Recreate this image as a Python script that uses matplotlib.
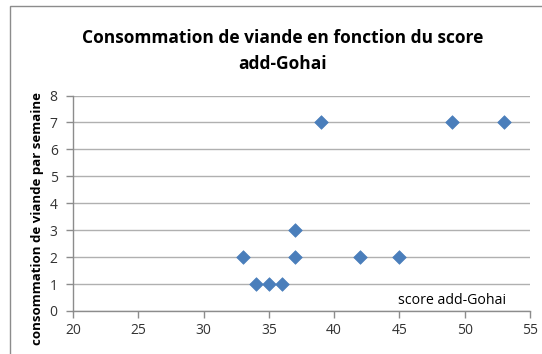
import matplotlib.pyplot as plt
from matplotlib.patches import Rectangle

# score add-Gohai et consommation de viande (fois par semaine)
score = [33, 34, 35, 36, 37, 37, 39, 42, 45, 49, 53]
viande = [2, 1, 1, 1, 3, 2, 7, 2, 2, 7, 7]

x_ticks = [20, 25, 30, 35, 40, 45, 50, 55]
y_ticks = [0, 1, 2, 3, 4, 5, 6, 7, 8]

plt.rcParams['font.family'] = ['Open Sans', 'DejaVu Sans']

fig = plt.figure(figsize=(5.42, 3.54), dpi=100)
fig.patch.set_facecolor('white')

# cadre du graphique
fig.patches.append(Rectangle((10 / 542, -0.1), 1.0, 1.1 - 6 / 354,
                             transform=fig.transFigure, fill=False,
                             edgecolor='#8c8c8c', linewidth=1.0))

ax = fig.add_axes([73 / 542, 43 / 354, 457 / 542, 215.5 / 354])

ax.scatter(score, viande, marker='D', s=48, color='#4a7ebb', zorder=3,
           edgecolors='#4a7ebb', linewidths=0.5)

ax.set_xlim(20, 55)
ax.set_ylim(0, 8)
ax.set_xticks(x_ticks)
ax.set_yticks(y_ticks)

ax.grid(axis='y', color='#b0b0b0', linewidth=1.0)
ax.grid(axis='x', visible=False)
ax.set_axisbelow(True)

for side in ['top', 'right']:
    ax.spines[side].set_visible(False)
for side in ['left', 'bottom']:
    ax.spines[side].set_color('#8c8c8c')
    ax.spines[side].set_linewidth(1.0)

ax.tick_params(axis='both', colors='#8c8c8c', labelcolor='#333333',
               labelsize=10, length=5, width=1.0)
ax.tick_params(axis='y', pad=6)
ax.tick_params(axis='x', pad=4)

fig.text(0.522, 0.856, 'Consommation de viande en fonction du score\nadd-Gohai',
         ha='center', va='center', fontsize=12.5, fontweight='bold',
         linespacing=1.55, color='black')

fig.text(0.07, 0.383, 'consommation de viande par semaine', rotation=90,
         ha='center', va='center', fontsize=9.5, fontweight='bold', color='black')

ax.text(44.9, 0.4, 'score add-Gohai', ha='left', va='center',
        fontsize=10.2, color='black')

fig.savefig('out.png', dpi=100)
